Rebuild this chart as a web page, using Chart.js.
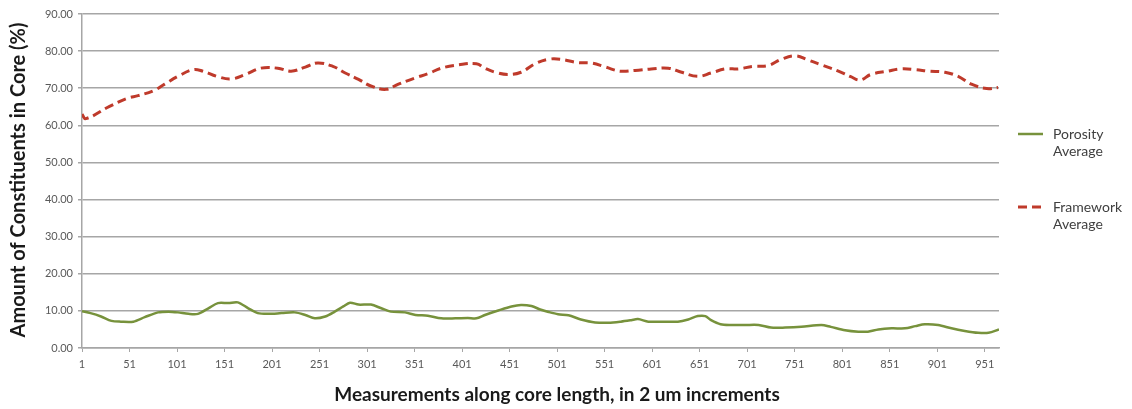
<!DOCTYPE html>
<html><head><meta charset="utf-8">
<script src="https://cdn.jsdelivr.net/npm/chart.js@4"></script>
<style>html,body{margin:0;padding:0;background:#fff;}#wrap{width:1132px;height:409px;position:relative;}</style>
</head><body><div id="wrap"><canvas id="c" width="1132" height="409"></canvas></div>
<script>
const seriesNames = ['Porosity Average', 'Framework Average'];
const xTickLabels = [1,51,101,151,201,251,301,351,401,451,501,551,601,651,701,751,801,851,901,951];
const yTickValues = [0,10,20,30,40,50,60,70,80,90];
const xTitle = 'Measurements along core length, in 2 um increments';
const yTitle = 'Amount of Constituents in Core (%)';

const porosityX = [1,10,21,32,42,55,67,81,92,102,113,123,134,144,155,165,176,186,197,211,225,236,246,257,267,276,283,292,305,316,326,341,352,365,379,394,407,416,425,439,453,463,474,484,492,502,513,526,541,555,568,579,586,597,615,628,639,649,657,663,673,684,699,713,726,741,758,779,789,804,818,828,839,853,867,878,888,902,916,930,944,955,966];
const porosityY = [9.9,9.4,8.5,7.3,7.1,7.1,8.3,9.6,9.8,9.6,9.2,9.2,10.7,12.1,12.1,12.3,10.7,9.4,9.2,9.4,9.6,8.9,8.0,8.5,9.8,11.2,12.2,11.7,11.7,10.7,9.8,9.6,8.9,8.7,8.0,8.0,8.1,8.0,8.9,10.1,11.2,11.6,11.3,10.3,9.7,9.1,8.8,7.7,6.9,6.8,7.1,7.5,7.8,7.1,7.1,7.1,7.7,8.6,8.6,7.5,6.4,6.2,6.2,6.2,5.5,5.5,5.7,6.2,5.7,4.8,4.4,4.4,5.0,5.3,5.3,5.9,6.4,6.2,5.3,4.6,4.1,4.1,5.0];

const frameworkX = [1,5,30,49,60,76,88,102,118,128,144,158,173,189,207,221,236,249,265,278,292,305,321,334,352,365,379,397,416,425,436,449,463,478,492,505,523,537,552,567,583,600,618,632,649,663,678,692,707,723,737,752,765,779,797,810,820,831,849,863,878,892,909,923,937,953,965];
const frameworkY = [63.0,61.8,65.1,67.3,68.0,69.3,71.1,73.2,75.0,74.6,73.1,72.5,73.7,75.4,75.4,74.6,75.7,76.8,75.9,74.1,72.4,70.6,69.7,71.1,72.8,73.9,75.4,76.3,76.6,75.4,74.3,73.7,74.3,76.6,77.8,77.8,76.9,76.8,75.7,74.6,74.8,75.2,75.4,74.3,73.2,74.1,75.2,75.2,75.9,76.1,77.8,78.7,77.6,76.3,74.6,73.1,72.2,73.7,74.6,75.2,75.0,74.6,74.3,73.2,71.1,69.9,70.2];

const FONT = "Lato, 'Open Sans', 'DejaVu Sans', sans-serif";
const toPts = (xs, ys) => xs.map((x, i) => ({x: x, y: ys[i]}));

const overlay = {
  id: 'overlay',
  afterDraw(chart) {
    const ctx = chart.ctx;
    const ca = chart.chartArea;
    ctx.save();
    // axis titles
    ctx.fillStyle = '#1a1a1a';
    ctx.textAlign = 'center';
    ctx.textBaseline = 'middle';
    ctx.font = 'bold 19px ' + FONT;
    ctx.fillText(xTitle, 557, 395);
    ctx.save();
    ctx.font = 'bold 20px ' + FONT;
    ctx.translate(19, 180);
    ctx.rotate(-Math.PI / 2);
    ctx.fillText(yTitle, 0, 0);
    ctx.restore();
    // legend
    const legY = [134, 207];
    ctx.font = '14px ' + FONT;
    ctx.textAlign = 'left';
    chart.data.datasets.forEach((ds, i) => {
      const y = legY[i];
      ctx.save();
      ctx.strokeStyle = ds.borderColor;
      ctx.lineWidth = ds.borderWidth;
      ctx.setLineDash(ds.borderDash || []);
      ctx.beginPath();
      ctx.moveTo(1018, y);
      ctx.lineTo(1043, y);
      ctx.stroke();
      ctx.restore();
      ctx.fillStyle = '#404040';
      const words = ds.label.split(' ');
      words.forEach((w, k) => ctx.fillText(w, 1053, y + k * 17));
    });
    ctx.restore();
  }
};

new Chart(document.getElementById('c'), {
  type: 'line',
  data: {
    datasets: [
      {
        label: seriesNames[0],
        data: toPts(porosityX, porosityY),
        borderColor: '#77923c',
        borderWidth: 2.5,
        pointRadius: 0,
        tension: 0.3,
        fill: false
      },
      {
        label: seriesNames[1],
        data: toPts(frameworkX, frameworkY),
        borderColor: '#bf3a2b',
        borderWidth: 3,
        borderDash: [9, 5],
        pointRadius: 0,
        tension: 0.4,
        fill: false
      }
    ]
  },
  options: {
    responsive: false,
    animation: false,
    devicePixelRatio: 1,
    layout: { padding: { left: 0, right: 133, top: 14, bottom: 0 } },
    plugins: { legend: { display: false }, tooltip: { enabled: false } },
    scales: {
      x: {
        type: 'linear',
        min: 1,
        max: 966,
        afterBuildTicks: (s) => { s.ticks = xTickLabels.map(v => ({ value: v })); },
        afterFit: (s) => { s.height = 61; },
        grid: { drawOnChartArea: false, drawTicks: true, tickLength: 4, color: '#a6a6a6', lineWidth: 1 },
        border: { color: '#a6a6a6', width: 1.5 },
        ticks: { color: '#595959', font: { family: FONT, size: 11 }, padding: 6, maxRotation: 0, autoSkip: false, callback: (v) => String(v) }
      },
      y: {
        min: 0,
        max: 90,
        afterBuildTicks: (s) => { s.ticks = yTickValues.map(v => ({ value: v })); },
        afterFit: (s) => { s.width = 82; },
        grid: { color: '#a6a6a6', lineWidth: 1.5, tickLength: 4 },
        border: { color: '#a6a6a6', width: 1.5 },
        ticks: { color: '#595959', font: { family: FONT, size: 11 }, padding: 5, callback: (v) => Number(v).toFixed(2) }
      }
    }
  },
  plugins: [overlay]
});
</script>
</body></html>
